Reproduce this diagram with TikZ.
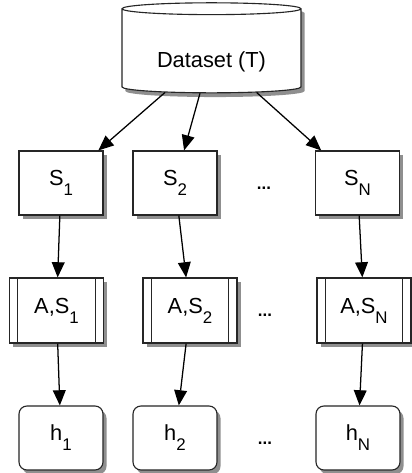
\documentclass[tikz,border=0pt]{standalone}
\usepackage{fontspec}
\setmainfont{Liberation Sans}
\usepackage{tikz}
\usetikzlibrary{positioning}
\usetikzlibrary{arrows.meta}
\usetikzlibrary{shapes.geometric}
\usetikzlibrary{shadows}
\newcommand{\lowidx}[1]{\raisebox{-7pt}{\fontsize{12}{12}\selectfont #1}}
\newcommand{\barsep}{0.22cm}

\tikzset{
	graffle/.style={draw=black!85, line width=0.8pt, fill=white,
		drop shadow={shadow xshift=2.5pt, shadow yshift=-3pt, opacity=0.55, fill=black!80}},
	samplebox/.style={graffle, rectangle, minimum width=2.1cm, minimum height=1.6cm},
	learnbox/.style={graffle, rectangle, minimum width=2.35cm, minimum height=1.625cm},
	hypbox/.style={graffle, rectangle, rounded corners=0.2cm, minimum width=2.1cm, minimum height=1.6cm},
	flow/.style={-{Triangle[length=0.38cm, width=0.32cm]}, line width=0.9pt},
	dots/.style={font=\fontsize{12}{12}\selectfont\bfseries}
}

\begin{document}
\begin{tikzpicture}[x=0.025cm, y=-0.025cm, font=\fontsize{15.5}{18}\selectfont]
	\useasboundingbox (0,0) rectangle (412,473);

	% data set
	\node[graffle, cylinder, shape border rotate=90, aspect=0.1,
		minimum width=4.475cm, minimum height=2.25cm] (data) at (211.5,52)
		{\raisebox{-7pt}[\height][\depth]{Dataset (T)}};

	% samples
	\node[samplebox] (s1) at (61,183)	{S\lowidx{1}};
	\node[samplebox] (s2) at (175,183)	{S\lowidx{2}};
	\node[samplebox] (sN) at (357.5,183)	{S\lowidx{N}};
	\node[dots] (sdots) at (264,188) {...};

	% learner on each sample
	\node[learnbox] (a1) at (56.5,310.5)	{A,S\lowidx{1}};
	\node[learnbox] (a2) at (190,310.5)	{A,S\lowidx{2}};
	\node[learnbox] (aN) at (364,310.5)	{A,S\lowidx{N}};
	\node[dots] (adots) at (265,315) {...};
	\foreach \n in {a1,a2,aN}
		\draw[draw=black!85, line width=0.8pt]
			([xshift=\barsep]\n.north west) -- ([xshift=\barsep]\n.south west)
			([xshift=-\barsep]\n.north east) -- ([xshift=-\barsep]\n.south east);

	% hypotheses
	\node[hypbox] (h1) at (61,438)	{h\lowidx{1}};
	\node[hypbox] (h2) at (175,438)	{h\lowidx{2}};
	\node[hypbox] (hN) at (358,438)	{h\lowidx{N}};
	\node[dots] (hdots) at (265,443) {...};

	\foreach \i in {1,2,N} {
		\draw[flow] (data) -- (s\i);
		\draw[flow] (s\i) -- (a\i);
		\draw[flow] (a\i) -- (h\i);
	}
\end{tikzpicture}
\end{document}
